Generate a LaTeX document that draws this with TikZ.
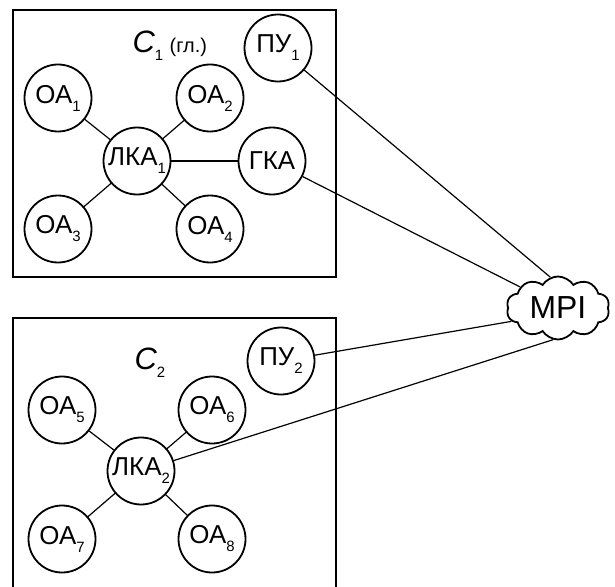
\documentclass[tikz,border=0pt]{standalone}
\usepackage{fontspec}
\setmainfont{Liberation Sans}
\usetikzlibrary{shapes.symbols, positioning}

\newcommand{\ind}[1]{\raisebox{-8bp}{\fontsize{15}{15}\selectfont\upshape #1}}

\begin{document}
\begin{tikzpicture}[
    x=1bp, y=-1bp,
    agent/.style={circle, draw, line width=1.8bp, minimum size=67bp,
                  inner sep=0pt, font=\fontsize{26}{30}\selectfont},
    cluster/.style={draw, line width=1.7bp},
    link/.style={line width=1.2bp},
    net/.style={cloud, cloud puffs=10, cloud puff arc=115, aspect=1.7, draw,
                line width=1.8bp, minimum width=103bp, minimum height=63bp,
                inner sep=0pt, font=\fontsize{32}{36}\selectfont},
    title/.style={inner sep=0pt, font=\fontsize{31}{34}\selectfont\itshape},
]
    \useasboundingbox (0,0) rectangle (615,587);

    % Clusters
    \draw[cluster] (13,10) rectangle (336,277);
    \draw[cluster] (13,318) rectangle (336,592);

    % Cluster 1 (main)
    \node[title] (c1) at (148,46) {C\ind{1}};
    \node[inner sep=0pt, font=\fontsize{20}{24}\selectfont, right=6bp of c1, yshift=-1bp] (main) {(гл.)};
    \node[agent] (pu1)  at (278,48)  {ПУ\ind{1}};
    \node[agent] (oa1)  at (58,98)   {ОА\ind{1}};
    \node[agent] (oa2)  at (210,98)  {ОА\ind{2}};
    \node[agent] (lka1) at (137,161) {ЛКА\ind{1}};
    \node[agent] (gka)  at (272,161) {ГКА};
    \node[agent] (oa3)  at (58,229)  {ОА\ind{3}};
    \node[agent] (oa4)  at (210,229) {ОА\ind{4}};

    % Cluster 2
    \node[title] (c2) at (150,363) {C\ind{2}};
    \node[agent] (pu2)  at (281,361) {ПУ\ind{2}};
    \node[agent] (oa5)  at (62,410)  {ОА\ind{5}};
    \node[agent] (oa6)  at (212,410) {ОА\ind{6}};
    \node[agent] (lka2) at (141,471) {ЛКА\ind{2}};
    \node[agent] (oa7)  at (62,539)  {ОА\ind{7}};
    \node[agent] (oa8)  at (212,539) {ОА\ind{8}};

    % Network
    \node[net] (mpi) at (558,308) {MPI};

    % Links inside clusters
    \foreach \oa in {oa1, oa2, oa3, oa4} {
        \draw[link] (lka1) -- (\oa);
    }
    \draw[link] (lka1) -- (gka);
    \foreach \oa in {oa5, oa6, oa7, oa8} {
        \draw[link] (lka2) -- (\oa);
    }

    % Links to MPI
    \draw[link] (pu1)  -- (mpi.104);
    \draw[link] (gka)  -- (mpi.151);
    \draw[link] (pu2)  -- (mpi.196);
    \draw[link] (lka2) -- (mpi.261);
\end{tikzpicture}
\end{document}
